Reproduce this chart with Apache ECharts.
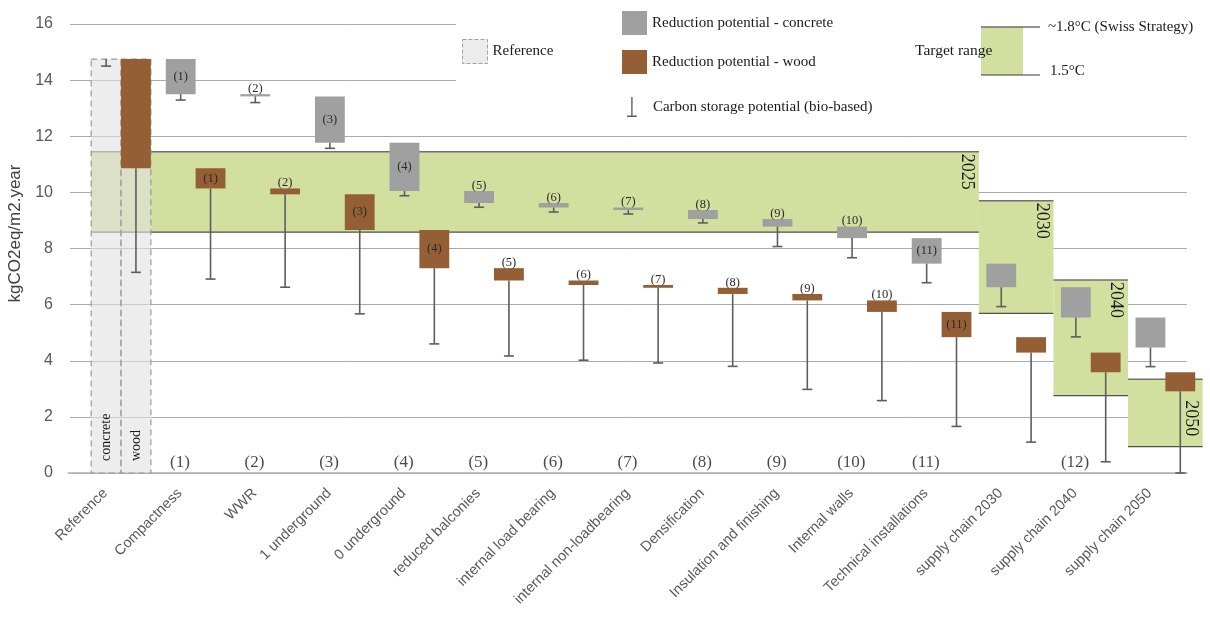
<!DOCTYPE html>
<html>
<head>
<meta charset="utf-8">
<script src="https://cdn.jsdelivr.net/npm/echarts@6/dist/echarts.min.js"></script>
<style>html,body{margin:0;padding:0;background:#fff}#c{width:1210px;height:623px}</style>
</head>
<body>
<div id="c"></div>
<script>
// ---------------- DATA ----------------
const categories = ['Reference', 'Compactness', 'WWR', '1 underground', '0 underground', 'reduced balconies',
  'internal load bearing', 'internal non-loadbearing', 'Densification', 'Insulation and finishing',
  'Internal walls', 'Technical installations', 'supply chain 2030', 'supply chain 2040', 'supply chain 2050'];
// emissions level after each step (index 0 = reference)
const concreteLevel = [14.75, 13.50, 13.42, 11.77, 10.05, 9.62, 9.46, 9.37, 9.05, 8.78, 8.37, 7.46, 6.62, 5.54, 4.47];
const woodLevel     = [10.86, 10.14, 9.93, 8.66, 7.30, 6.86, 6.70, 6.60, 6.38, 6.15, 5.74, 4.84, 4.29, 3.59, 2.91];
// level including carbon storage potential (whisker end)
const concreteStorage = [14.50, 13.29, 13.20, 11.57, 9.88, 9.47, 9.30, 9.23, 8.91, 8.07, 7.67, 6.78, 5.93, 4.85, 3.79];
const woodStorage     = [7.15, 6.91, 6.62, 5.67, 4.60, 4.17, 4.02, 3.92, 3.80, 2.98, 2.58, 1.66, 1.10, 0.40, 0.00];
const barLabels  = ['', '(1)', '(2)', '(3)', '(4)', '(5)', '(6)', '(7)', '(8)', '(9)', '(10)', '(11)', '', '', ''];
const stepLabels = ['', '(1)', '(2)', '(3)', '(4)', '(5)', '(6)', '(7)', '(8)', '(9)', '(10)', '(11)', '', '(12)', ''];
// target range bands
const bandYears    = ['2025', '2030', '2040', '2050'];
const bandUpper    = [11.45, 9.70, 6.88, 3.34];   // ~1.8°C (Swiss Strategy)
const bandLower    = [8.58, 5.69, 2.76, 0.94];    // 1.5°C
const bandFirstCat = [0, 12, 13, 14];
const bandLastCat  = [11, 12, 13, 14];
const yTicks = [0, 16, 2]; // min, max, interval

// ---------------- CHART ----------------
const BAR_W = 0.4;
const X_MIN = -0.684, X_MAX = 14.29;
const GRAY = '#a0a0a0', BROWN = '#955f35', GREEN = '#d1df9f', WHISK = '#5e5e5e';
const SERIF = '"Liberation Serif", "Times New Roman", serif';
const SANS = '"Liberation Sans", Arial, sans-serif';

function boxRender(offset, fill, labels) {
  return function (params, api) {
    const k = api.value(0), hi = api.value(1), lo = api.value(2);
    const a = api.coord([k + offset, hi]);
    const b = api.coord([k + offset + BAR_W, lo]);
    const x = a[0], y = a[1], w = b[0] - a[0], h = b[1] - a[1];
    const children = [{ type: 'rect', shape: { x: x, y: y, width: w, height: h }, style: { fill: fill } }];
    const t = labels[params.dataIndex];
    if (t) {
      const inside = h >= 16;
      children.push({ type: 'text', x: x + w / 2, y: inside ? y + h / 2 : y + 1,
        style: { text: t, fill: '#2b2b2b', font: '12.5px ' + SERIF, align: 'center', verticalAlign: inside ? 'middle' : 'bottom' } });
    }
    return { type: 'group', children: children };
  };
}

const concreteData = categories.slice(1).map((_, i) => [i + 1, concreteLevel[i], concreteLevel[i + 1]]);
const woodData = categories.map((_, k) => [k, k === 0 ? concreteLevel[0] : woodLevel[k - 1], woodLevel[k]]);
const whiskerData = [];
categories.forEach((_, k) => {
  whiskerData.push([k - BAR_W / 2, concreteLevel[k], concreteStorage[k]]);
  whiskerData.push([k + BAR_W / 2, woodLevel[k], woodStorage[k]]);
});
const bandData = bandYears.map((_, i) => [Math.max(bandFirstCat[i] - 0.5, -BAR_W), bandLastCat[i] + 0.5, bandUpper[i], bandLower[i]]);
const stepData = stepLabels.map((t, i) => t ? { name: t, value: [i, 0.39] } : null).filter(Boolean);

const chart = echarts.init(document.getElementById('c'), null, { renderer: 'canvas' });
const legendText = { fontFamily: SERIF, fontSize: 15, color: '#1a1a1a' };
const option = {
  animation: false,
  backgroundColor: '#ffffff',
  grid: [
    { left: 70, width: 1117, top: 24, bottom: 150, outerBoundsMode: 'none', containLabel: false },
    { left: 68, width: 1119, top: 24, bottom: 150, outerBoundsMode: 'none', containLabel: false }
  ],
  xAxis: [
    { type: 'value', gridIndex: 0, min: X_MIN, max: X_MAX, show: false },
    { type: 'category', gridIndex: 1, data: categories, boundaryGap: true,
      axisLine: { show: true, lineStyle: { color: '#b0b0b0', width: 1.5 } }, axisTick: { show: false },
      axisLabel: { interval: 0, rotate: 45, margin: 18, fontSize: 14.5, color: '#595959', fontFamily: SANS } }
  ],
  yAxis: [
    { type: 'value', gridIndex: 0, min: yTicks[0], max: yTicks[1], interval: yTicks[2],
      axisLine: { show: false }, axisTick: { show: false },
      axisLabel: { fontSize: 16, color: '#595959', margin: 17, fontFamily: SANS },
      splitLine: { show: true, lineStyle: { color: '#ababab', width: 1 } },
      name: 'kgCO2eq/m2.year', nameLocation: 'middle', nameGap: 36,
      nameTextStyle: { fontSize: 17, color: '#404040', fontFamily: SANS, padding: [0, 0, 0, 30] } },
    { type: 'value', gridIndex: 1, min: yTicks[0], max: yTicks[1], interval: yTicks[2], show: false, splitLine: { show: false } }
  ],
  legend: [
    { data: [{ name: 'Reference', icon: 'rect', itemStyle: { color: '#ececec', borderColor: '#a0a0a0', borderWidth: 1, borderType: 'dashed' } }],
      left: 462, top: 39, padding: 0, itemWidth: 25, itemHeight: 24, selectedMode: false, textStyle: legendText },
    { data: ['Reduction potential - concrete', 'Reduction potential - wood'], orient: 'vertical', icon: 'rect',
      left: 622, top: 11, padding: 0, itemGap: 15, itemWidth: 25, itemHeight: 24, selectedMode: false, textStyle: legendText },
    { data: [{ name: 'Carbon storage potential (bio-based)', icon: 'path://M4.3,0 L5.7,0 L5.7,18.8 L10,18.8 L10,20.4 L0,20.4 L0,18.8 L4.3,18.8 Z' }],
      left: 627, top: 97, padding: 0, itemWidth: 24, itemHeight: 20, selectedMode: false,
      textStyle: Object.assign({ padding: [0, 0, 0, 4] }, legendText) }
  ],
  graphic: [
    { type: 'rect', z: 1, shape: { x: 456, y: 0, width: 754, height: 126 }, style: { fill: '#ffffff' } },
    { type: 'rect', z: 5, shape: { x: 981, y: 27, width: 42, height: 48 }, style: { fill: GREEN } },
    { type: 'line', z: 5, shape: { x1: 981, y1: 27, x2: 1040, y2: 27 }, style: { stroke: '#6e6e6e', lineWidth: 1.5 } },
    { type: 'line', z: 5, shape: { x1: 981, y1: 75, x2: 1040, y2: 75 }, style: { stroke: '#3a3a3a', lineWidth: 1.2 } },
    { type: 'text', z: 6, x: 915, y: 51, style: { text: 'Target range', font: '15.5px ' + SERIF, fill: '#1a1a1a', verticalAlign: 'middle' } },
    { type: 'text', z: 6, x: 1048, y: 27, style: { text: '~1.8°C (Swiss Strategy)', font: '15px ' + SERIF, fill: '#1a1a1a', verticalAlign: 'middle' } },
    { type: 'text', z: 6, x: 1050, y: 71, style: { text: '1.5°C', font: '15px ' + SERIF, fill: '#1a1a1a', verticalAlign: 'middle' } }
  ],
  series: [
    { name: 'Target range', type: 'custom', xAxisIndex: 0, yAxisIndex: 0, z: 1, clip: false,
      itemStyle: { color: GREEN }, data: bandData,
      renderItem: function (params, api) {
        const a = api.coord([api.value(0), api.value(2)]);
        const b = api.coord([api.value(1), api.value(3)]);
        // keep the year label clear of the wood box drawn at the band's right edge
        const last = bandLastCat[params.dataIndex];
        const boxTop = api.coord([last, woodLevel[last - 1]])[1];
        const boxBot = api.coord([last, woodLevel[last]])[1];
        let ty = a[1] + 2;
        if (boxBot > ty && boxTop < ty + 45) ty = boxBot + 9;
        return { type: 'group', children: [
          { type: 'rect', shape: { x: a[0], y: a[1], width: b[0] - a[0], height: b[1] - a[1] }, style: { fill: GREEN } },
          { type: 'line', shape: { x1: a[0], y1: a[1], x2: b[0], y2: a[1] }, style: { stroke: '#707070', lineWidth: 1.5 } },
          { type: 'line', shape: { x1: a[0], y1: b[1], x2: b[0], y2: b[1] }, style: { stroke: '#505050', lineWidth: 1.2 } },
          { type: 'text', x: b[0] - 12, y: ty, rotation: -Math.PI / 2,
            style: { text: bandYears[params.dataIndex], font: '18px ' + SERIF, fill: '#1a1a1a', align: 'left', verticalAlign: 'middle' } }
        ] };
      } },
    { name: 'Reference', type: 'custom', xAxisIndex: 0, yAxisIndex: 0, z: 2, clip: false,
      itemStyle: { color: '#ececec' }, data: [[0, concreteLevel[0]]],
      renderItem: function (params, api) {
        const k = api.value(0), v = api.value(1);
        const a = api.coord([k - BAR_W, v]), m = api.coord([k, 0]), b = api.coord([k + BAR_W, 0]);
        const st = { fill: 'rgba(225,225,225,0.6)', stroke: '#9a9a9a', lineWidth: 1.2, lineDash: [6, 4] };
        return { type: 'group', children: [
          { type: 'rect', shape: { x: a[0], y: a[1], width: m[0] - a[0], height: m[1] - a[1] }, style: st },
          { type: 'rect', shape: { x: m[0], y: a[1], width: b[0] - m[0], height: m[1] - a[1] }, style: st },
          { type: 'text', x: (a[0] + m[0]) / 2, y: m[1] - 12, rotation: Math.PI / 2,
            style: { text: 'concrete', font: '14px ' + SERIF, fill: '#1a1a1a', align: 'left', verticalAlign: 'middle' } },
          { type: 'text', x: (m[0] + b[0]) / 2, y: m[1] - 12, rotation: Math.PI / 2,
            style: { text: 'wood', font: '14px ' + SERIF, fill: '#1a1a1a', align: 'left', verticalAlign: 'middle' } }
        ] };
      } },
    { name: 'Reduction potential - concrete', type: 'custom', xAxisIndex: 0, yAxisIndex: 0, z: 3, clip: false,
      itemStyle: { color: GRAY }, data: concreteData, renderItem: boxRender(-BAR_W, GRAY, barLabels.slice(1)) },
    { name: 'Reduction potential - wood', type: 'custom', xAxisIndex: 0, yAxisIndex: 0, z: 3, clip: false,
      itemStyle: { color: BROWN }, data: woodData, renderItem: boxRender(0, BROWN, barLabels) },
    { name: 'Carbon storage potential (bio-based)', type: 'custom', xAxisIndex: 0, yAxisIndex: 0, z: 4, clip: false,
      itemStyle: { color: WHISK }, data: whiskerData,
      renderItem: function (params, api) {
        const p = api.coord([api.value(0), api.value(1)]);
        const q = api.coord([api.value(0), api.value(2)]);
        return { type: 'group', children: [
          { type: 'line', shape: { x1: p[0], y1: p[1], x2: q[0], y2: q[1] }, style: { stroke: WHISK, lineWidth: 1.6 } },
          { type: 'line', shape: { x1: q[0] - 5, y1: q[1], x2: q[0] + 5, y2: q[1] }, style: { stroke: WHISK, lineWidth: 1.6 } }
        ] };
      } },
    { name: 'steps', type: 'scatter', xAxisIndex: 1, yAxisIndex: 1, symbolSize: 0, z: 5, silent: true,
      data: stepData,
      label: { show: true, position: 'inside', formatter: '{b}', fontFamily: SERIF, fontSize: 17, color: '#1a1a1a' } }
  ]
};
chart.setOption(option);
</script>
</body>
</html>
